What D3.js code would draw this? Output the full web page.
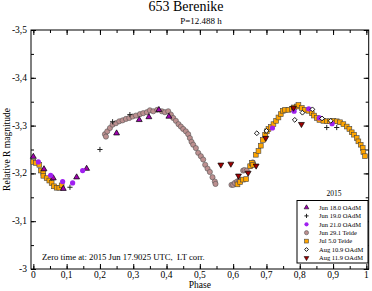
<!DOCTYPE html>
<html>
<head>
<meta charset="utf-8">
<script src="https://cdn.jsdelivr.net/npm/d3@7"></script>
<style>
  body { margin: 0; background: #fff; }
  text { font-family: "Liberation Serif", "DejaVu Serif", serif; fill: #000; }
</style>
</head>
<body>
<div id="chart"></div>
<script>
// light curve data: [phase, relative R magnitude]
const jun18 = [[0.0,-3.235],[0.032,-3.209],[0.06,-3.19],[0.09,-3.168],[0.13,-3.192],[0.16,-3.21],
  [0.25,-3.284],[0.318,-3.312],[0.347,-3.318],[0.377,-3.333],[0.407,-3.319]];
const jun19 = [[0.11,-3.171],[0.2,-3.25],[0.238,-3.308],[0.29,-3.323],[0.881,-3.296],[0.911,-3.296]];
const jun21 = [[0.015,-3.224],[0.052,-3.196],[0.088,-3.183],[0.118,-3.18],[0.148,-3.206],
  [0.718,-3.295],[0.783,-3.33],[0.827,-3.335],[0.859,-3.316],[0.897,-3.304]];
const jun29 = [[0.215,-3.282],[0.218,-3.277],[0.222,-3.288],[0.23,-3.295],[0.238,-3.302],[0.248,-3.305],
  [0.258,-3.309],[0.268,-3.311],[0.278,-3.314],[0.288,-3.316],[0.298,-3.319],[0.308,-3.321],
  [0.32,-3.324],[0.33,-3.326],[0.341,-3.328],[0.35,-3.332],[0.36,-3.33],[0.372,-3.333],
  [0.386,-3.33],[0.395,-3.328],[0.405,-3.33],[0.413,-3.323],[0.42,-3.316],[0.428,-3.31],
  [0.436,-3.303],[0.443,-3.298],[0.45,-3.293],[0.458,-3.288],[0.465,-3.282],[0.47,-3.274],
  [0.475,-3.266],[0.48,-3.26],[0.488,-3.253],[0.495,-3.243],[0.503,-3.236],[0.51,-3.229],
  [0.516,-3.218],[0.523,-3.21],[0.53,-3.203],[0.538,-3.192],[0.545,-3.183],[0.547,-3.178],
  [0.595,-3.176],[0.6,-3.176],[0.605,-3.18],[0.612,-3.183],[0.618,-3.185],[0.63,-3.206],
  [0.634,-3.207],[0.641,-3.206],[0.654,-3.216],[0.659,-3.223]];
const jul5 = [[0.0,-3.224],[0.008,-3.222],[0.018,-3.218],[0.023,-3.206],[0.03,-3.201],[0.03,-3.195],
  [0.04,-3.19],[0.048,-3.185],[0.055,-3.18],[0.062,-3.173],[0.07,-3.17],[0.078,-3.17],[0.085,-3.175],
  [0.613,-3.177],[0.621,-3.182],[0.629,-3.187],[0.639,-3.188],[0.651,-3.215],[0.656,-3.222],
  [0.66,-3.218],[0.668,-3.239],[0.676,-3.247],[0.683,-3.258],[0.689,-3.27],[0.696,-3.281],
  [0.701,-3.288],[0.706,-3.293],[0.713,-3.297],[0.721,-3.303],[0.729,-3.31],[0.736,-3.317],
  [0.743,-3.324],[0.749,-3.331],[0.756,-3.333],[0.766,-3.333],[0.776,-3.335],[0.783,-3.338],
  [0.791,-3.34],[0.796,-3.343],[0.806,-3.337],[0.816,-3.333],[0.826,-3.331],[0.836,-3.326],
  [0.843,-3.321],[0.851,-3.316],[0.859,-3.312],[0.871,-3.31],[0.881,-3.309],[0.891,-3.309],
  [0.901,-3.31],[0.911,-3.309],[0.921,-3.307],[0.931,-3.303],[0.941,-3.298],[0.949,-3.293],
  [0.956,-3.286],[0.963,-3.281],[0.971,-3.274],[0.976,-3.267],[0.983,-3.26],[0.989,-3.253],
  [0.991,-3.245],[0.996,-3.236]];
const aug10 = [[0.671,-3.284],[0.7,-3.289],[0.785,-3.312],[0.808,-3.327],[0.838,-3.334],[0.867,-3.315],[0.893,-3.31]];
const aug11 = [[0.563,-3.218],[0.593,-3.22],[0.616,-3.195],[0.645,-3.201],[0.669,-3.216],[0.698,-3.274],[0.781,-3.337],[0.805,-3.303]];

const seriesNames = ["Jun 18.0 OAdM", "Jun 19.0 OAdM", "Jun 21.0 OAdM", "Jun 29.1 Teide",
  "Jul 5.0 Teide", "Aug 10.9 OAdM", "Aug 11.9 OAdM"];
const xTicks = [0, 0.1, 0.2, 0.3, 0.4, 0.5, 0.6, 0.7, 0.8, 0.9, 1];
const yTicks = [-3.5, -3.4, -3.3, -3.2, -3.1, -3];

const width = 372, height = 291;
const margin = { top: 30, right: 3.3, bottom: 22, left: 31 };

const svg = d3.select("#chart").append("svg")
  .attr("width", width).attr("height", height);

const x = d3.scaleLinear().domain([-0.007, 1.007]).range([margin.left, width - margin.right]);
const y = d3.scaleLinear().domain([-3, -3.5]).range([height - margin.bottom, margin.top]);

const fmt = (d) => String(d).replace(".", ",");

// ticks: major every 0.1, minor every 0.05, all pointing inward
const xMinor = d3.range(0, 1.0001, 0.05);
const yMinor = d3.range(-3.5, -2.9999, 0.05);

function ticks(g, axis, len) {
  g.call(axis.tickSize(len).tickFormat(""))
    .call((s) => s.select(".domain").remove())
    .call((s) => s.selectAll("line").attr("stroke", "#000"));
}

const plotH = height - margin.bottom - margin.top;
const plotW = width - margin.right - margin.left;

// bottom
svg.append("g").attr("transform", `translate(0,${height - margin.bottom})`)
  .call((g) => ticks(g, d3.axisTop(x).tickValues(xMinor), 3));
svg.append("g").attr("transform", `translate(0,${height - margin.bottom})`)
  .call((g) => ticks(g, d3.axisTop(x).tickValues(xTicks), 5));
// top
svg.append("g").attr("transform", `translate(0,${margin.top})`)
  .call((g) => ticks(g, d3.axisBottom(x).tickValues(xMinor), 3));
svg.append("g").attr("transform", `translate(0,${margin.top})`)
  .call((g) => ticks(g, d3.axisBottom(x).tickValues(xTicks), 5));
// left
svg.append("g").attr("transform", `translate(${margin.left},0)`)
  .call((g) => ticks(g, d3.axisRight(y).tickValues(yMinor), 3));
svg.append("g").attr("transform", `translate(${margin.left},0)`)
  .call((g) => ticks(g, d3.axisRight(y).tickValues(yTicks), 5));
// right
svg.append("g").attr("transform", `translate(${width - margin.right},0)`)
  .call((g) => ticks(g, d3.axisLeft(y).tickValues(yMinor), 3));
svg.append("g").attr("transform", `translate(${width - margin.right},0)`)
  .call((g) => ticks(g, d3.axisLeft(y).tickValues(yTicks), 5));

// tick labels
svg.append("g").selectAll("text").data(xTicks).join("text")
  .attr("x", (d) => x(d)).attr("y", height - margin.bottom + 9)
  .attr("text-anchor", "middle").attr("font-size", 9.5).text(fmt);
svg.append("g").selectAll("text").data(yTicks).join("text")
  .attr("x", margin.left - 4).attr("y", (d) => y(d) + 3)
  .attr("text-anchor", "end").attr("font-size", 9.5).text(fmt);

// frame
svg.append("rect")
  .attr("x", margin.left).attr("y", margin.top)
  .attr("width", plotW).attr("height", plotH)
  .attr("fill", "none").attr("stroke", "#000");

// titles
svg.append("text").attr("x", 186).attr("y", 11).attr("text-anchor", "middle")
  .attr("font-size", 14).text("653 Berenike");
svg.append("text").attr("x", 201).attr("y", 24).attr("text-anchor", "middle")
  .attr("font-size", 9).text("P=12.488 h");
svg.append("text").attr("x", x(0.5)).attr("y", 288).attr("text-anchor", "middle")
  .attr("font-size", 9.5).text("Phase");
svg.append("text").attr("transform", `translate(10,${y(-3.25)}) rotate(-90)`)
  .attr("text-anchor", "middle").attr("font-size", 9.5).text("Relative R magnitude");
svg.append("text").attr("x", 42).attr("y", 260).attr("font-size", 8.7)
  .text("Zero time at: 2015 Jun 17.9025 UTC,  LT corr.").style("white-space", "pre");

// marker styles
const tri = d3.symbol().type(d3.symbolTriangle).size(15);
const styles = [
  { data: jun18, kind: "tri", fill: "#a000b0", stroke: "#000" },
  { data: jun19, kind: "plus" },
  { data: jun21, kind: "circle", fill: "#a020f0", stroke: "none" },
  { data: jun29, kind: "circle", fill: "#bc8f8f", stroke: "#555" },
  { data: jul5, kind: "square", fill: "#ffa500", stroke: "#444" },
  { data: aug10, kind: "diamond", fill: "#fff", stroke: "#000" },
  { data: aug11, kind: "triDown", fill: "#a00000", stroke: "#000" },
];

function drawMark(g, s, k = 1) {
  if (s.kind === "circle") {
    g.append("circle").attr("r", 2.6 * k).attr("fill", s.fill)
      .attr("stroke", s.stroke).attr("stroke-width", 0.6);
  } else if (s.kind === "square") {
    const h = 2.4 * k;
    g.append("rect").attr("x", -h).attr("y", -h).attr("width", 2 * h).attr("height", 2 * h)
      .attr("fill", s.fill).attr("stroke", s.stroke).attr("stroke-width", 0.6);
  } else if (s.kind === "tri") {
    g.append("path").attr("d", tri()).attr("transform", `scale(${k})`).attr("fill", s.fill)
      .attr("stroke", s.stroke).attr("stroke-width", 0.7);
  } else if (s.kind === "triDown") {
    g.append("path").attr("d", tri()).attr("transform", `rotate(180) scale(${k})`)
      .attr("fill", s.fill).attr("stroke", s.stroke).attr("stroke-width", 0.7);
  } else if (s.kind === "diamond") {
    const h = 2.4 * k;
    g.append("path").attr("d", `M0,${-h}L${h},0L0,${h}L${-h},0Z`)
      .attr("fill", s.fill).attr("stroke", s.stroke).attr("stroke-width", 0.9);
  } else if (s.kind === "plus") {
    const h = 2.6 * k;
    g.append("path").attr("d", `M${-h},0H${h}M0,${-h}V${h}`)
      .attr("stroke", "#222").attr("stroke-width", 1);
  }
}

// draw series: Jun 29 and Jul 5 beneath the sparser sets
const order = [3, 4, 0, 1, 2, 5, 6];
for (const i of order) {
  const s = styles[i];
  svg.append("g").selectAll("g").data(s.data).join("g")
    .attr("transform", (d) => `translate(${x(d[0])},${y(d[1])})`)
    .each(function () { drawMark(d3.select(this), s); });
}

// legend
const lg = svg.append("g");
lg.append("text").attr("x", 334).attr("y", 196).attr("text-anchor", "middle")
  .attr("font-size", 7.5).text("2015");
lg.append("rect").attr("x", 297).attr("y", 200.5).attr("width", 71).attr("height", 62.5)
  .attr("fill", "#fff").attr("stroke", "#000").attr("stroke-width", 1);
seriesNames.forEach((name, i) => {
  const yy = 207.5 + i * 8.4;
  const g = lg.append("g").attr("transform", `translate(306.5,${yy})`);
  drawMark(g, styles[i], 0.8);
  lg.append("text").attr("x", 319).attr("y", yy + 2.3).attr("font-size", 6.5).text(name);
});
</script>
</body>
</html>
